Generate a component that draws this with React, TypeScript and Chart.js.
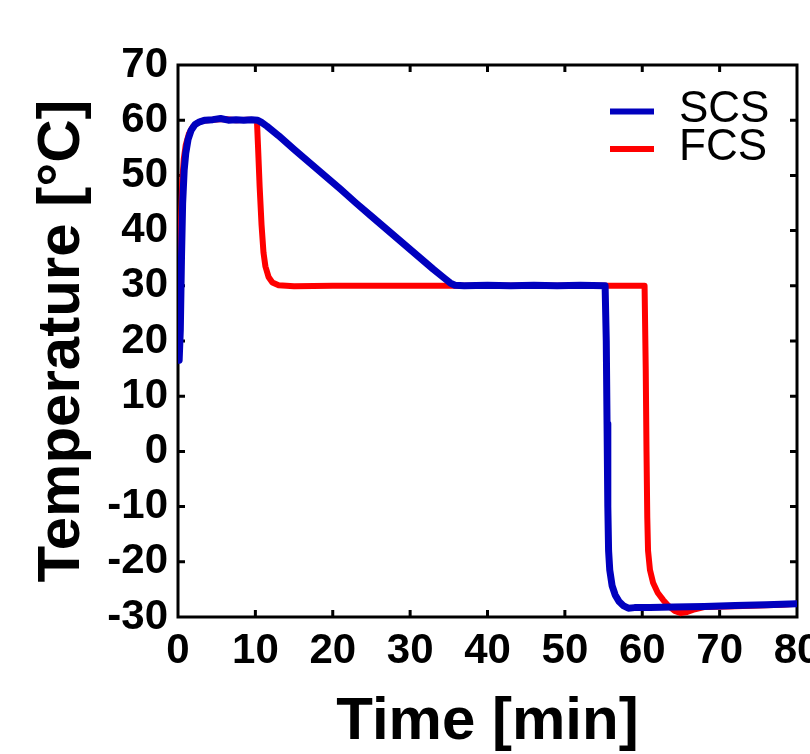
import React, { useEffect, useRef } from "react";
import { Chart, registerables } from "chart.js";

Chart.register(...registerables);

// ---- data ----
const seriesNames = ["SCS", "FCS"];
const seriesColors = ["#0000BE", "#FF0000"];

const scsTime = [
  0, 0.15, 0.3, 0.45, 0.6, 0.8, 1.0, 1.3, 1.7, 2.2, 2.8, 3.5, 4.5, 5.5, 6.5, 7.5, 8.5, 9.5, 10.3,
  10.8, 11.5, 13, 15, 17, 19, 21, 23, 25, 27, 29, 31, 33, 34.5, 35.2, 35.8, 37, 40, 43, 46, 49, 52,
  55.2, 55.35, 55.45, 55.55, 55.65, 55.8, 56.1, 56.5, 57, 57.6, 58.2, 59, 61, 64, 68, 72, 76, 80,
];
const scsTemp = [
  18.5, 16.5, 22, 35, 45, 51, 54, 56.5, 58.2, 59.2, 59.7, 60.0, 60.1, 60.3, 60.0, 60.1, 60.0, 60.1, 60.0,
  59.6, 58.9, 57.2, 54.7, 52.3, 49.9, 47.5, 45.0, 42.6, 40.2, 37.8, 35.4, 33.0, 31.3, 30.5, 30.1, 30.0, 30.1, 30.0, 30.1, 30.0, 30.1,
  30.0, 20, 5, -10, -18, -21.5, -24.3, -26, -27.2, -28, -28.4, -28.3, -28.3, -28.2, -28.1, -27.9, -27.8, -27.6,
];

const fcsTime = [
  0, 0.1, 0.25, 0.4, 0.55, 0.75, 1.0, 1.4, 1.9, 2.5, 3.2, 4.5, 6, 7.5, 9, 10.2,
  10.35, 10.55, 10.8, 11.05, 11.3, 11.7, 12.2, 13, 15, 20, 26, 30, 40, 50, 60.3,
  60.45, 60.55, 60.65, 60.75, 61, 61.4, 62, 62.7, 63.4, 64.2, 65, 65.8, 66.8, 68, 71, 75, 78, 80,
];
const fcsTemp = [
  21, 19.5, 30, 42, 49, 53, 55.5, 57.5, 58.8, 59.5, 59.9, 60.1, 60.2, 60.0, 60.1, 60,
  55, 48, 41, 36, 33.5, 31.6, 30.6, 30.1, 29.9, 30.0, 30.0, 30.0, 30.0, 30.0, 30.0,
  15, 0, -12, -18, -21.5, -23.8, -25.6, -26.9, -28, -28.9, -29.3, -29.1, -28.6, -28.2, -28.1, -27.9, -27.8, -27.6,
];

const xTickValues = [0, 10, 20, 30, 40, 50, 60, 70, 80];
const yTickValues = [-30, -20, -10, 0, 10, 20, 30, 40, 50, 60, 70];
const xTitle = "Time [min]";
const yTitle = "Temperature [°C]";

const FONT = "'Liberation Sans', Arial, Helvetica, sans-serif";

const toPoints = (xs: number[], ys: number[]) => xs.map((x, i) => ({ x, y: ys[i] }));

const framePlugin = {
  id: "frame",
  beforeDatasetsDraw(chart: any) {
    const { ctx, chartArea } = chart;
    const { left, right, top, bottom } = chartArea;
    const xs = chart.scales.x;
    const ys = chart.scales.y;
    const L = 7;
    ctx.save();
    ctx.strokeStyle = "#000";
    ctx.lineWidth = 3;
    ctx.strokeRect(left, top, right - left, bottom - top);
    ctx.beginPath();
    xs.ticks.forEach((t: any) => {
      if (t.value <= xs.min || t.value >= xs.max) return;
      const px = xs.getPixelForValue(t.value);
      ctx.moveTo(px, bottom);
      ctx.lineTo(px, bottom - L);
      ctx.moveTo(px, top);
      ctx.lineTo(px, top + L);
    });
    ys.ticks.forEach((t: any) => {
      if (t.value <= ys.min || t.value >= ys.max) return;
      const py = ys.getPixelForValue(t.value);
      ctx.moveTo(left, py);
      ctx.lineTo(left + L, py);
      ctx.moveTo(right, py);
      ctx.lineTo(right - L, py);
    });
    ctx.stroke();
    ctx.restore();
  },
};

const legendPlugin = {
  id: "inlineLegend",
  afterDraw(chart: any) {
    const { ctx, chartArea } = chart;
    const lineX0 = chartArea.right - 187;
    const lineX1 = chartArea.right - 143;
    const textX = chartArea.right - 118;
    const row0 = chartArea.top + 46.5;
    const rowGap = 37.5;
    ctx.save();
    chart.data.datasets.forEach((ds: any, i: number) => {
      const y = row0 + i * rowGap;
      ctx.strokeStyle = ds.borderColor;
      ctx.lineWidth = 6;
      ctx.lineCap = "butt";
      ctx.beginPath();
      ctx.moveTo(lineX0, y);
      ctx.lineTo(lineX1, y);
      ctx.stroke();
      ctx.fillStyle = "#000";
      ctx.font = `normal 44px ${FONT}`;
      ctx.textAlign = "left";
      ctx.textBaseline = "middle";
      ctx.fillText(ds.label, textX, y - 1.5);
    });
    ctx.restore();
  },
};

export default function App() {
  const ref = useRef<HTMLCanvasElement>(null);

  useEffect(() => {
    if (!ref.current) return;
    const chart = new Chart(ref.current, {
      type: "line",
      data: {
        datasets: [
          {
            label: seriesNames[0],
            data: toPoints(scsTime, scsTemp),
            borderColor: seriesColors[0],
            backgroundColor: seriesColors[0],
            borderWidth: 7,
            pointRadius: 0,
            tension: 0,
            borderJoinStyle: "round",
            borderCapStyle: "round",
          },
          {
            label: seriesNames[1],
            data: toPoints(fcsTime, fcsTemp),
            borderColor: seriesColors[1],
            backgroundColor: seriesColors[1],
            borderWidth: 6,
            pointRadius: 0,
            tension: 0,
            borderJoinStyle: "round",
            borderCapStyle: "round",
          },
        ],
      },
      options: {
        animation: false,
        responsive: false,
        devicePixelRatio: 1,
        layout: { padding: { top: 65, right: 13, left: 0, bottom: 0 } },
        plugins: {
          legend: { display: false },
          tooltip: { enabled: false },
        },
        scales: {
          x: {
            type: "linear",
            min: 0,
            max: 80,
            afterBuildTicks: (scale: any) => {
              scale.ticks = xTickValues.map((v) => ({ value: v }));
            },
            afterFit: (scale: any) => {
              scale.height = 137;
              scale.paddingLeft = 0;
              scale.paddingRight = 0;
            },
            grid: { display: false, drawTicks: false },
            border: { display: false },
            ticks: {
              padding: 9,
              maxRotation: 0,
              autoSkip: false,
              color: "#000",
              font: { family: FONT, size: 42, weight: "bold" },
            },
            title: {
              display: true,
              text: xTitle,
              color: "#000",
              padding: { top: 0, bottom: 2 },
              font: { family: FONT, size: 60, weight: "bold", lineHeight: 1 },
            },
          },
          y: {
            type: "linear",
            min: -30,
            max: 70,
            afterBuildTicks: (scale: any) => {
              scale.ticks = yTickValues.map((v) => ({ value: v }));
            },
            afterFit: (scale: any) => {
              scale.width = 178;
              scale.paddingTop = 0;
              scale.paddingBottom = 0;
            },
            grid: { display: false, drawTicks: false },
            border: { display: false },
            ticks: {
              padding: 10,
              autoSkip: false,
              color: "#000",
              font: { family: FONT, size: 42, weight: "bold" },
            },
            title: {
              display: true,
              text: yTitle,
              color: "#000",
              padding: { top: 32, bottom: 0 },
              font: { family: FONT, size: 60, weight: "bold", lineHeight: 1 },
            },
          },
        },
      },
      plugins: [framePlugin, legendPlugin],
    } as any);
    return () => chart.destroy();
  }, []);

  return (
    <div style={{ position: "absolute", left: 0, top: 0, width: 810, height: 754, background: "#fff" }}>
      <canvas ref={ref} width={810} height={754} style={{ display: "block", width: 810, height: 754 }} />
    </div>
  );
}
